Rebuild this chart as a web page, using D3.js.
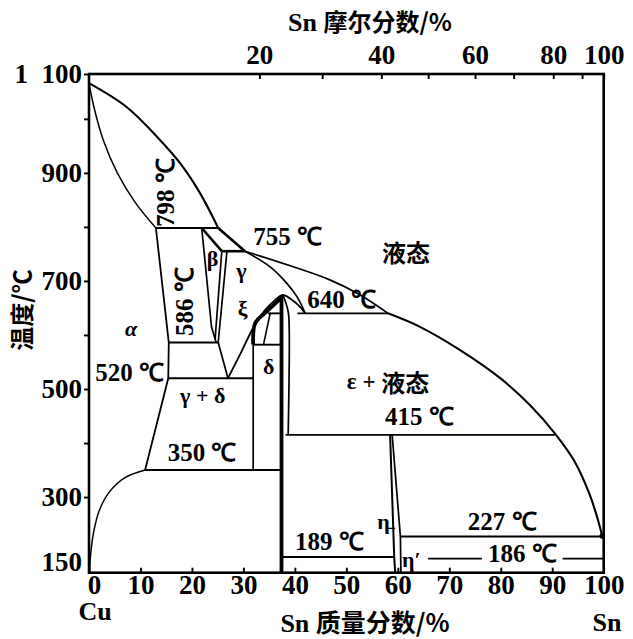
<!DOCTYPE html>
<html><head><meta charset="utf-8">
<script src="https://cdn.jsdelivr.net/npm/d3@7"></script>
<style>
body{margin:0;background:#fff;}
svg{display:block;}
.num{font-family:"Liberation Serif","Times New Roman",serif;font-weight:bold;}
.cjk{font-family:"Noto Sans CJK SC",sans-serif;font-weight:bold;}
</style></head>
<body>
<svg id="c" width="633" height="639"></svg>
<script>
// ---- data (wt% Sn, temperature °C) ----
const bottomTicks = [0,10,20,30,40,50,60,70,80,90,100];
const topTickWt = [33.1,45.3,56.8,65.9,75.0,82.5,90.2,95.8,100];
const topTickLabels = ["20","","40","","60","","80","","100"];
const yTickVals = [1083,900,700,500,300,180];
const yTickLabels = ["1 100","900","700","500","300","150"];
const yMinorTicks = [1000,800,600,400];

const liqA = [[0,1066],[7.3,1022],[13.2,967],[17.7,918],[21.6,862],[25.1,798]];
const liqB = [[25.1,798],[30.3,755]];
const liqC = [[30.3,755],[39.1,728],[46.8,702],[52.7,674],[58.1,640]];
const liqD = [[58.1,640],[64.3,615],[72.1,572],[79.9,520],[85.7,470],[90.5,418],[94.4,365],[97.3,304],[98.9,257],[99.7,228]];
const solidusAlpha = [[0,1066],[1.0,1020],[2.8,960],[5.5,900],[9.0,845],[13.0,798]];
const alphaBoundary = [[13.0,798],[15.5,586],[15.4,520],[10.9,350]];
const alphaSolvus = [[10.9,350],[7.0,336],[4.0,310],[2.0,275],[0.9,235],[0.3,192],[0.1,160]];
const betaSolidus = [[21.9,798],[25.8,755]];
const betaLeft = [[21.9,798],[23.8,615],[24.7,586]];
const betaRight = [[25.8,755],[24.5,592]];
const gammaLeft = [[26.8,755],[25.1,586],[27.0,520]];
const gammaSolidus = [[30.3,755],[35.2,726],[38.4,696],[40.4,671],[41.6,649],[42.0,640]];
const dome = [[27.0,520],[29.3,563],[31.9,613],[34.2,646],[36.2,665],[37.7,674],[39.4,665],[41.0,652],[42.0,640]];
const xiCurve = [[31.9,582],[32.3,622],[34.5,643],[37.4,669]];
const xiDiv = [[35.2,640],[33.9,582]];
const epsRight = [[37.7,674],[38.7,643],[38.9,610],[38.7,415]];
const epsLine = [[37.4,674],[37.4,160]];
const deltaLeft = [[31.9,582],[31.9,350]];
const etaLeft = [[58.5,415],[59.3,189],[59.5,160]];
const etaRight = [[58.9,415],[60.5,227],[60.6,160]];
const etaPointer = [[58.1,242],[59.5,242]];
// isotherms: [T, wtFrom, wtTo]
const isotherms = [[798,13.0,25.1],[755,25.8,30.3],[640,40.5,58.1],[640,34.8,37.4],[586,15.5,25.1],[582,31.9,37.4],
  [520,15.4,31.9],[415,38.2,90.5],[350,10.9,37.4],[227,60.5,99.7],[189,37.4,59.3],[186,65.9,100]];
// labels: [text, wt, T, kind]
const labels = [
  ["755 ℃",31.9,766,"num"],["640 ℃",42.4,650,"num"],["520 ℃",1.2,515,"num"],["350 ℃",15.3,366,"num"],
  ["415 ℃",57.5,433,"num"],["189 ℃",40.0,202,"num"],["227 ℃",73.6,239,"num"],
  ["β",22.9,728,"greek"],["γ",28.6,705,"greek"],["ξ",28.9,635,"greek"],["δ",33.8,528,"greek"],
  ["α",7.0,598,"greek"],["γ + δ",17.7,474,"greek"],["η",56.0,241,"greek"],["η′",60.8,170,"greek"]];
const rotLabels = [["798 ℃",14.8,800],["586 ℃",18.5,598]];
const cjkLabels = [["液态",61.6,754]];
const mixedLabel = ["ε + ","液态",58.1,515];
const boxedLabel = ["186 ℃",77.5,180];
const dotPoint = [99.7,228];

// ---- drawing ----
const svg = d3.select("#c");
const x = d3.scaleLinear().domain([0,100]).range([89,603.7]);
const y = d3.scaleLinear().domain([160,1083]).range([572.7,74]);
const line = d3.line().x(d=>x(d[0])).y(d=>y(d[1]));
const curve = d3.line().x(d=>x(d[0])).y(d=>y(d[1])).curve(d3.curveCatmullRom.alpha(0.5));
const g = svg.append("g");
function draw(data, c, w){ g.append("path").attr("d",(c?curve:line)(data)).attr("fill","none").attr("stroke","#000").attr("stroke-width",w||1.7).attr("stroke-linejoin","round"); }

draw(liqA,true,2.1); draw(liqB,false,2.6); draw(liqC,true,1.7); draw(liqD,true,2.1);
draw(solidusAlpha,true,1.5); draw(alphaBoundary,false,1.8); draw(alphaSolvus,true,1.5);
draw(betaSolidus,false,2.6); draw(betaLeft,false,1.7); draw(betaRight,false,1.7); draw(gammaLeft,false,1.7);
draw(gammaSolidus,true,1.7); draw(dome,true,1.8); draw(xiCurve,true,3.8); draw(xiDiv,false,1.6);
draw(epsRight,true,1.7); draw(epsLine,false,3.8); draw(deltaLeft,false,1.7);
draw(etaLeft,false,2); draw(etaRight,false,1.7); draw(etaPointer,false,1.3);
isotherms.forEach(d=>{ g.append("line").attr("x1",x(d[1])).attr("x2",x(d[2])).attr("y1",y(d[0])).attr("y2",y(d[0])).attr("stroke","#000").attr("stroke-width", d[0]===755?2.6:1.9); });
g.append("circle").attr("cx",x(dotPoint[0])).attr("cy",y(dotPoint[1])).attr("r",2.7).attr("fill","#000");

// frame
svg.append("rect").attr("x",x(0)).attr("y",y(1083)).attr("width",x(100)-x(0)).attr("height",y(160)-y(1083)).attr("fill","none").attr("stroke","#000").attr("stroke-width",2.6);

// axes
const fs = 27;
const ax = svg.append("g").attr("transform",`translate(0,${y(160)})`).call(d3.axisBottom(x).tickValues(bottomTicks).tickSize(-5).tickPadding(2).tickFormat(d=>d));
const at = svg.append("g").attr("transform",`translate(0,${y(1083)})`).call(d3.axisTop(x).tickValues(topTickWt).tickSize(-5).tickPadding(10).tickFormat((d,i)=>topTickLabels[i]));
const al = svg.append("g").attr("transform",`translate(${x(0)},0)`).call(d3.axisLeft(y).tickValues(yTickVals).tickSize(5).tickPadding(2).tickFormat((d,i)=>yTickLabels[i]));
const am = svg.append("g").attr("transform",`translate(${x(0)},0)`).call(d3.axisLeft(y).tickValues(yMinorTicks).tickSize(5).tickFormat(""));
[ax,at,al,am].forEach(a=>{ a.select(".domain").remove(); a.selectAll("line").attr("stroke","#000").attr("stroke-width",1.9);
  a.selectAll("text").attr("class","num").attr("font-size",fs).attr("fill","#000"); });
al.selectAll(".tick").filter(d=>d===180).select("line").remove();
al.selectAll(".tick text").filter(d=>d===1083).attr("xml:space","preserve").text("1\u2002100");
ax.selectAll(".tick text").filter(d=>d===0).attr("dx",5);

// labels
labels.forEach(d=>{ svg.append("text").attr("class","num").attr("x",x(d[1])).attr("y",y(d[2]))
  .attr("font-size", d[3]==="greek"?22:25).attr("font-style", (d[0]==="α")?"italic":null).text(d[0]); });
rotLabels.forEach(d=>{ svg.append("text").attr("class","num").attr("font-size",25).attr("dominant-baseline","central")
  .attr("transform",`translate(${x(d[1])},${y(d[2])}) rotate(-90)`).text(d[0]); });
cjkLabels.forEach(d=>{ svg.append("text").attr("class","cjk").attr("font-size",24).attr("text-anchor","middle").attr("dominant-baseline","central")
  .attr("x",x(d[1])).attr("y",y(d[2])).text(d[0]); });
svg.append("text").attr("x",x(mixedLabel[2])).attr("y",y(mixedLabel[3])).attr("text-anchor","middle").attr("dominant-baseline","central")
  .html(`<tspan class="num" font-size="23">${mixedLabel[0]}</tspan><tspan class="cjk" font-size="24">${mixedLabel[1]}</tspan>`);
const bt = svg.append("text").attr("class","num").attr("font-size",25).attr("x",x(boxedLabel[1])).attr("y",y(boxedLabel[2])).text(boxedLabel[0]);
const bb = bt.node().getBBox();
svg.insert("rect",()=>bt.node()).attr("x",bb.x-6).attr("y",bb.y+4).attr("width",bb.width+12).attr("height",bb.height-8).attr("fill","#fff");

// axis titles
svg.append("text").attr("x",370).attr("y",31).attr("text-anchor","middle")
  .html('<tspan class="num" font-size="26">Sn </tspan><tspan class="cjk" font-size="24">摩尔分数/%</tspan>');
svg.append("text").attr("x",365).attr("y",632).attr("text-anchor","middle")
  .html('<tspan class="num" font-size="26">Sn </tspan><tspan class="cjk" font-size="25">质量分数/%</tspan>');
svg.append("text").attr("class","num").attr("x",95).attr("y",620).attr("text-anchor","middle").attr("font-size",26).text("Cu");
svg.append("text").attr("class","num").attr("x",607).attr("y",631).attr("text-anchor","middle").attr("font-size",26).text("Sn");
svg.append("text").attr("class","cjk").attr("font-size",24).attr("text-anchor","middle").attr("dominant-baseline","central")
  .attr("transform","translate(20,310) rotate(-90)").text("温度/℃");
</script>
</body></html>
